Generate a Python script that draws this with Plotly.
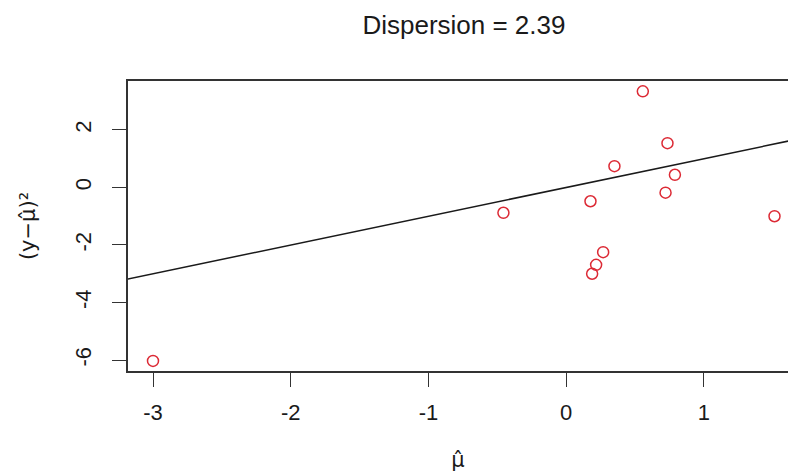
import plotly.graph_objects as go

# Fitted means and squared-residual values
mu_hat = [-3.00, -0.456, 0.176, 0.188, 0.217, 0.268, 0.350, 0.556, 0.721, 0.735, 0.789, 1.512]
resid_sq = [-6.03, -0.88, -0.48, -3.00, -2.69, -2.25, 0.74, 3.34, -0.18, 1.54, 0.44, -1.00]

# Reference line y = a + b*x
ref_intercept = 0.0
ref_slope = 1.0

x_ticks = [-3, -2, -1, 0, 1]
y_ticks = [-6, -4, -2, 0, 2]

dispersion = 2.39

x_range = [-3.1815, 1.610]
y_range = [-6.38, 3.70]

font_family = "Liberation Sans, Arial, Helvetica, sans-serif"
label_family = "DejaVu Sans, Liberation Sans, sans-serif"

fig = go.Figure()

line_x = [x_range[0] - 1, x_range[1] + 1]
line_y = [ref_intercept + ref_slope * v for v in line_x]
fig.add_trace(go.Scatter(
    x=line_x, y=line_y, mode="lines",
    line=dict(color="#1a1a1a", width=1.5),
    hoverinfo="skip", showlegend=False,
))

fig.add_trace(go.Scatter(
    x=mu_hat, y=resid_sq, mode="markers",
    marker=dict(symbol="circle-open", size=11, color="#DC2A35",
                line=dict(width=1.5, color="#DC2A35")),
    showlegend=False, cliponaxis=False,
))

fig.update_layout(
    width=788, height=473,
    margin=dict(l=128, r=0, t=81, b=102),
    paper_bgcolor="white", plot_bgcolor="white",
    font=dict(family=font_family, size=22, color="#1a1a1a"),
    title=dict(
        text=f"Dispersion = {dispersion}",
        x=0.509, xref="paper", xanchor="center",
        y=1 - 25 / 473, yref="container", yanchor="middle",
        font=dict(size=26, color="#1a1a1a"),
    ),
    xaxis=dict(
        range=x_range, tickvals=x_ticks, ticktext=[str(t) for t in x_ticks],
        showgrid=False, zeroline=False,
        showline=True, mirror=True, linecolor="#333333", linewidth=1.5,
        ticks="outside", ticklen=14, tickwidth=1.3, tickcolor="#333333",
        ticklabelstandoff=7,
        title=dict(text="μ̂", standoff=28, font=dict(size=21, family=label_family)),
    ),
    yaxis=dict(
        range=y_range, tickvals=y_ticks, ticktext=[str(t) for t in y_ticks],
        tickangle=-90,
        showgrid=False, zeroline=False,
        showline=True, mirror=False, linecolor="#333333", linewidth=1.5,
        ticks="outside", ticklen=14, tickwidth=1.3, tickcolor="#333333",
        ticklabelstandoff=12,
        title=dict(text="(y−μ̂)²", standoff=30, font=dict(size=21, family=label_family)),
    ),
)

fig.write_html("out.html")
